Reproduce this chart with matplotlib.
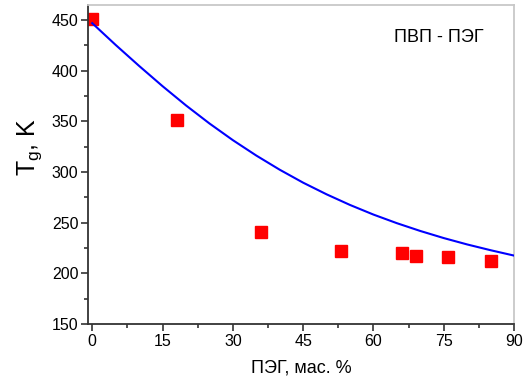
import matplotlib
matplotlib.use('Agg')
import matplotlib.pyplot as plt
from matplotlib.ticker import MultipleLocator

plt.rcParams['font.family'] = ['Liberation Sans', 'DejaVu Sans']

# experimental points
peg_exp = [0, 18, 36, 53, 66, 69, 76, 85]
tg_exp = [451, 351, 241, 222, 220, 217, 216, 212]

# calculated curve
peg_calc = [0, 5, 10, 15, 20, 25, 30, 35, 40, 45, 50, 55, 60, 65, 70, 75, 80, 85, 90]
tg_calc = [447, 425.5, 404.8, 384.8, 365.8, 348, 331.5, 316.3, 302.3, 289.5,
           278, 267.5, 258, 249.5, 241.8, 234.8, 228.5, 222.8, 217.5]

fig = plt.figure(figsize=(5.24, 3.82), dpi=100)
ax = fig.add_axes([0.168, 0.152, 0.813, 0.835])

ax.plot(peg_calc, tg_calc, color='#0000ff', lw=1.5, zorder=3)
ax.plot(peg_exp, tg_exp, 's', color='#ff0000', ms=9, mec='#ff0000', zorder=2)

ax.set_xlim(-0.9, 90)
ax.set_ylim(150, 465)
ax.xaxis.set_major_locator(MultipleLocator(15))
ax.xaxis.set_minor_locator(MultipleLocator(7.5))
ax.yaxis.set_major_locator(MultipleLocator(50))
ax.yaxis.set_minor_locator(MultipleLocator(25))

ax.tick_params(which='both', direction='out', top=False, right=False,
               color='#333333', width=1.2)
ax.tick_params(which='major', length=5, labelsize=11.5, pad=2)
ax.tick_params(which='minor', length=3)

for s in ['left', 'bottom']:
    ax.spines[s].set_color('#333333')
    ax.spines[s].set_linewidth(1.3)
for s in ['top', 'right']:
    ax.spines[s].set_color('#c8c8c8')
    ax.spines[s].set_linewidth(1.3)

ax.set_xlabel('ПЭГ, мас. %', fontsize=13, labelpad=8)
ax.set_ylabel(r'$\mathregular{T_g}$, K', fontsize=18)
ax.yaxis.set_label_coords(-0.104, 0.555)

ax.text(74, 433, 'ПВП - ПЭГ', fontsize=13, ha='center', va='center')

fig.savefig('out.png', dpi=100)
